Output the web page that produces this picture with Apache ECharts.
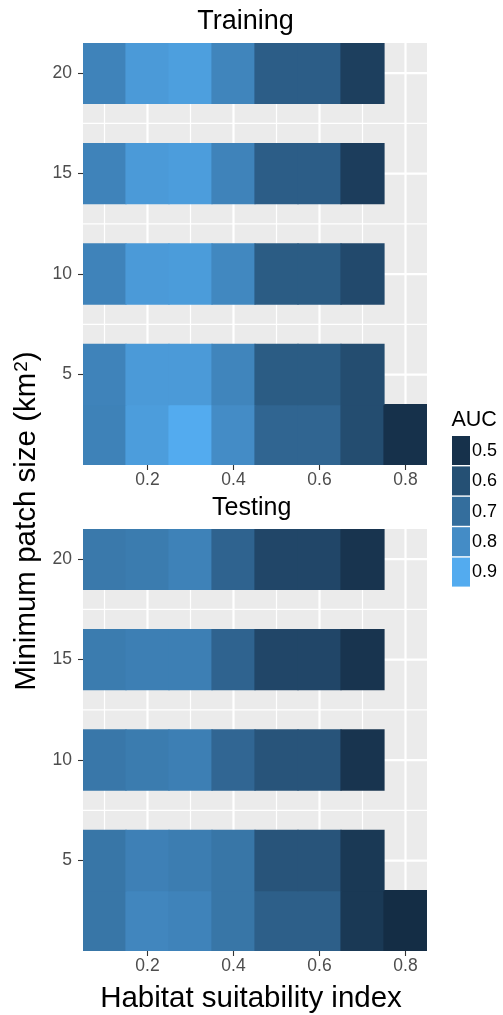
<!DOCTYPE html>
<html>
<head>
<meta charset="utf-8">
<script src="https://cdn.jsdelivr.net/npm/echarts@6/dist/echarts.min.js"></script>
<style>
html,body{margin:0;padding:0;background:#fff;}
#chart{width:503px;height:1015px;}
</style>
</head>
<body>
<div id="chart"></div>
<script>
// ---------------- DATA ----------------
const hsi = [0.1, 0.2, 0.3, 0.4, 0.5, 0.6, 0.7, 0.8];
const patchSizes = [2, 5, 10, 15, 20];

// Training AUC, one array per minimum patch size (columns follow hsi)
const trainAUC_2  = [0.765, 0.855, 0.900, 0.800, 0.670, 0.670, 0.590, 0.500];
const trainAUC_5  = [0.770, 0.845, 0.845, 0.775, 0.640, 0.640, 0.590, null];
const trainAUC_10 = [0.770, 0.845, 0.850, 0.785, 0.640, 0.640, 0.580, null];
const trainAUC_15 = [0.770, 0.845, 0.855, 0.770, 0.645, 0.645, 0.540, null];
const trainAUC_20 = [0.770, 0.845, 0.860, 0.775, 0.645, 0.645, 0.545, null];

// Testing AUC
const testAUC_2  = [0.725, 0.780, 0.770, 0.725, 0.650, 0.650, 0.525, 0.485];
const testAUC_5  = [0.725, 0.760, 0.750, 0.725, 0.615, 0.615, 0.525, null];
const testAUC_10 = [0.730, 0.745, 0.755, 0.675, 0.615, 0.615, 0.510, null];
const testAUC_15 = [0.745, 0.755, 0.755, 0.665, 0.570, 0.570, 0.510, null];
const testAUC_20 = [0.735, 0.745, 0.765, 0.665, 0.570, 0.570, 0.510, null];

const xTicks = [0.2, 0.4, 0.6, 0.8];
const xMinor = [0.1, 0.3, 0.5, 0.7];
const yTicks = [5, 10, 15, 20];
const yMinor = [2.5, 7.5, 12.5, 17.5];
const legendBreaks = [0.5, 0.6, 0.7, 0.8, 0.9];
const colourLimits = [0.48, 0.92];

// ---------------- BUILD ----------------
const trainRows = [trainAUC_2, trainAUC_5, trainAUC_10, trainAUC_15, trainAUC_20];
const testRows  = [testAUC_2, testAUC_5, testAUC_10, testAUC_15, testAUC_20];
const tileW = 0.1, tileH = 3;

function toTiles(rows) {
  const out = [];
  rows.forEach((row, i) => {
    row.forEach((v, j) => {
      if (v !== null && v !== undefined) out.push([hsi[j], patchSizes[i], v]);
    });
  });
  return out;
}
function gridLineData() {
  const d = [];
  xTicks.forEach(v => d.push([0, v, 1]));
  xMinor.forEach(v => d.push([0, v, 0]));
  yTicks.forEach(v => d.push([1, v, 1]));
  yMinor.forEach(v => d.push([1, v, 0]));
  return d;
}

const FONT = 'Liberation Sans, Arial, Helvetica, sans-serif';
const LOW = '#132B43', HIGH = '#56B1F7';
function hex2rgb(h){return [parseInt(h.substr(1,2),16),parseInt(h.substr(3,2),16),parseInt(h.substr(5,2),16)];}
function lerpColor(v){
  const t = Math.max(0, Math.min(1, (v - colourLimits[0]) / (colourLimits[1] - colourLimits[0])));
  const a = hex2rgb(LOW), b = hex2rgb(HIGH);
  const c = a.map((x,i)=>Math.round(x + (b[i]-x)*t));
  return 'rgb(' + c.join(',') + ')';
}

function tileRender(params, api) {
  const x = api.value(0), y = api.value(1);
  const p0 = api.coord([x - tileW / 2, y + tileH / 2]);
  const p1 = api.coord([x + tileW / 2, y - tileH / 2]);
  const cs = params.coordSys;
  // slight overlap between neighbouring tiles to hide anti-aliasing seams, clipped to the panel
  const x0 = Math.max(cs.x, p0[0] - 0.6), x1 = Math.min(cs.x + cs.width, p1[0] + 0.6);
  const y0 = Math.max(cs.y, p0[1] - 0.6), y1 = Math.min(cs.y + cs.height, p1[1] + 0.6);
  const col = api.visual('color');
  return {
    type: 'rect',
    shape: { x: x0, y: y0, width: x1 - x0, height: y1 - y0 },
    style: { fill: col }
  };
}
function gridRender(params, api) {
  const cs = params.coordSys;
  const orient = api.value(0), v = api.value(1), major = api.value(2);
  let shape;
  if (orient === 0) {
    const p = api.coord([v, 1]);
    shape = { x1: p[0], y1: cs.y, x2: p[0], y2: cs.y + cs.height };
  } else {
    const p = api.coord([0.5, v]);
    shape = { x1: cs.x, y1: p[1], x2: cs.x + cs.width, y2: p[1] };
  }
  return {
    type: 'line', shape: shape,
    style: { stroke: '#FFFFFF', lineWidth: major ? 2.2 : 1.2 }
  };
}

function xAxisDef(idx) {
  return {
    type: 'value', gridIndex: idx, min: 0.05, max: 0.85,
    axisLine: { show: false },
    axisTick: { show: true, customValues: xTicks, length: 5, lineStyle: { color: '#333333', width: 1.1 } },
    axisLabel: { show: true, customValues: xTicks, margin: 6, fontSize: 17.5, color: '#4D4D4D', fontFamily: FONT,
      formatter: v => v.toFixed(1) },
    splitLine: { show: false }, minorSplitLine: { show: false }
  };
}
function yAxisDef(idx) {
  return {
    type: 'value', gridIndex: idx, min: 0.5, max: 21.5,
    axisLine: { show: false },
    axisTick: { show: true, customValues: yTicks, length: 5, lineStyle: { color: '#333333', width: 1.1 } },
    axisLabel: { show: true, customValues: yTicks, margin: 11, fontSize: 17.5, color: '#4D4D4D', fontFamily: FONT },
    splitLine: { show: false }, minorSplitLine: { show: false }
  };
}

const graphics = [
  { type: 'text', x: 245.5, y: 22, style: { text: 'Training', fontSize: 27, fontFamily: FONT, fill: '#000', align: 'center', verticalAlign: 'middle' } },
  { type: 'text', x: 251.7, y: 508, style: { text: 'Testing', fontSize: 25, fontFamily: FONT, fill: '#000', align: 'center', verticalAlign: 'middle' } },
  { type: 'text', x: 251, y: 999, style: { text: 'Habitat suitability index', fontSize: 29.5, fontFamily: FONT, fill: '#000', align: 'center', verticalAlign: 'middle' } },
  { type: 'text', x: 27, y: 521, rotation: Math.PI / 2,
    style: { text: '{a|Minimum patch size (km}{s|2}{a|)}', fontFamily: FONT, fill: '#000', align: 'center', verticalAlign: 'middle',
      rich: { a: { fontSize: 29.5, fontFamily: FONT, fill: '#000', verticalAlign: 'middle' },
              s: { fontSize: 19, fontFamily: FONT, fill: '#000', verticalAlign: 'top', padding: [0, 0, 0, 1] } } } },
  { type: 'text', x: 451.5, y: 420, style: { text: 'AUC', fontSize: 21.5, fontFamily: FONT, fill: '#000', align: 'left', verticalAlign: 'middle' } }
];
const keyTops = [436, 466.4, 496.8, 527.2, 557.6];
legendBreaks.forEach((b, i) => {
  graphics.push({ type: 'rect', shape: { x: 452, y: keyTops[i], width: 18, height: 29 }, style: { fill: lerpColor(b) } });
  graphics.push({ type: 'text', x: 472, y: keyTops[i] + 14.8, style: { text: b.toFixed(1), fontSize: 18, fontFamily: FONT, fill: '#000', align: 'left', verticalAlign: 'middle' } });
});

const option = {
  animation: false,
  backgroundColor: '#FFFFFF',
  grid: [
    { left: 83, top: 43, width: 344, height: 422, show: true, backgroundColor: '#EBEBEB', borderWidth: 0 },
    { left: 83, top: 529, width: 344, height: 422, show: true, backgroundColor: '#EBEBEB', borderWidth: 0 }
  ],
  xAxis: [xAxisDef(0), xAxisDef(1)],
  yAxis: [yAxisDef(0), yAxisDef(1)],
  visualMap: [{
    type: 'continuous', show: false, dimension: 2, seriesIndex: [2, 3],
    min: colourLimits[0], max: colourLimits[1], inRange: { color: [LOW, HIGH] }
  }],
  series: [
    { type: 'custom', xAxisIndex: 0, yAxisIndex: 0, z: 1, silent: true, renderItem: gridRender, data: gridLineData(), encode: { x: 1, y: 1 } },
    { type: 'custom', xAxisIndex: 1, yAxisIndex: 1, z: 1, silent: true, renderItem: gridRender, data: gridLineData(), encode: { x: 1, y: 1 } },
    { type: 'custom', name: 'Training', xAxisIndex: 0, yAxisIndex: 0, z: 2, silent: true, renderItem: tileRender, data: toTiles(trainRows), encode: { x: 0, y: 1 } },
    { type: 'custom', name: 'Testing', xAxisIndex: 1, yAxisIndex: 1, z: 2, silent: true, renderItem: tileRender, data: toTiles(testRows), encode: { x: 0, y: 1 } }
  ],
  graphic: graphics
};

const chart = echarts.init(document.getElementById('chart'), null, { renderer: 'canvas' });
chart.setOption(option);
</script>
</body>
</html>
